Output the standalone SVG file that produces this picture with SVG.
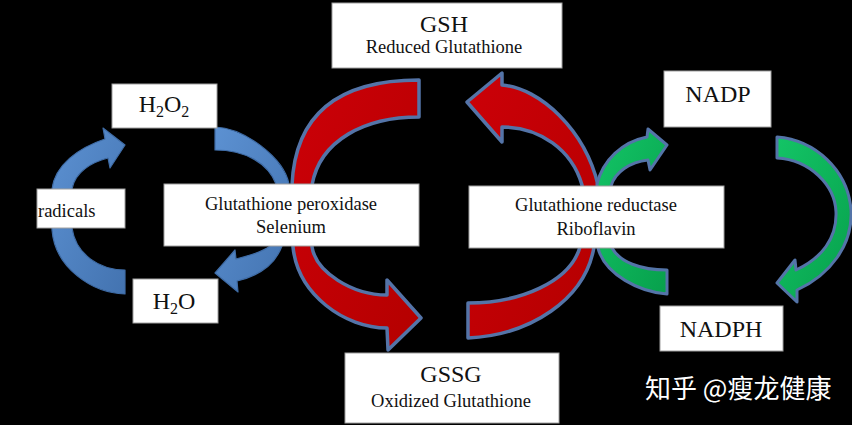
<svg xmlns="http://www.w3.org/2000/svg" width="852" height="425" viewBox="0 0 852 425">
<defs>
<linearGradient id="gBlue" x1="0" y1="0" x2="1" y2="1">
<stop offset="0" stop-color="#5c91d2"/><stop offset="1" stop-color="#4373b0"/>
</linearGradient>
<linearGradient id="gGreen" x1="0" y1="0" x2="1" y2="1">
<stop offset="0" stop-color="#13c466"/><stop offset="1" stop-color="#07a04c"/>
</linearGradient>
<linearGradient id="gRed" x1="0" y1="0" x2="1" y2="1">
<stop offset="0" stop-color="#cc0008"/><stop offset="1" stop-color="#b40000"/>
</linearGradient>
</defs>
<style>
.box{fill:#ffffff;stroke:#a0a0a0;stroke-width:1}
.t{font-family:"Liberation Serif","Times New Roman",serif;fill:#111;text-anchor:middle}
.big{font-size:24px}
.sm{font-size:18.5px}
.blue{fill:url(#gBlue);stroke:#3f6ca6;stroke-width:1.2;stroke-linejoin:round}
.red{fill:url(#gRed);stroke:#5474a8;stroke-width:3.5;stroke-linejoin:round}
.green{fill:url(#gGreen);stroke:#5474a8;stroke-width:3;stroke-linejoin:round}
</style>
<rect width="852" height="425" fill="#000"/>
<g id="connectors">
<path class="blue" d="M125,270 L125,294 C92,293 55,268 52,230 L52,189 C55,165 78,148 105,139 L103,128 L125,145 L110,168 L108,158 C92,162 75,172 72,189 L72,228 C76,255 100,270 125,270 Z"/>
<path class="blue" d="M215,127 C245,128 284,158 289,184 L282,246 C275,265 258,276 237,281 L238,292 L215,273 L235,250 L236,259 C252,255 265,250 270,246 L276,184 C268,163 245,150 215,150 Z"/>
<path class="red" d="M419,80 C365,80 296,95 292,185 L293,247 C298,295 345,328 387,328 L388,350 L421,318 L387,280 L387,295 C352,295 316,272 312,247 L312,185 C320,140 365,117 419,117 Z"/>
<path class="red" d="M467,102 L502,73 L502,85 C540,88 585,130 598,185 L594,247 C585,300 530,335 468,338 L468,303 C520,303 570,282 580,247 L582,185 C572,150 540,127 502,127 L502,142 Z"/>
<path class="green" d="M667,270 L667,294 C640,292 605,275 598,248 L597,184 C603,160 622,142 647,137 L648,129 L667,145 L650,170 L648,160 C630,162 615,172 611,186 L612,248 C620,262 640,270 667,270 Z"/>
<path class="green" d="M777,137 C815,140 848,170 851,210 C853,245 830,275 797,290 L797,302 L777,283 L795,260 L796,270 C822,258 837,238 836,212 C835,185 810,160 777,158 Z"/>
</g>
<g id="gsh">
<rect class="box" x="332" y="3" width="230" height="65"/>
<text class="t big" x="444" y="32">GSH</text>
<text class="t sm" x="444" y="53">Reduced Glutathione</text>
</g>
<g id="h2o2">
<rect class="box" x="112" y="84" width="105" height="44"/>
<text class="t big" x="164" y="112">H<tspan font-size="16" dy="5">2</tspan><tspan dy="-5">O</tspan><tspan font-size="16" dy="5">2</tspan></text>
</g>
<g id="radicals">
<rect class="box" x="37" y="189" width="88" height="39"/>
<text class="t sm" x="38" y="217" style="text-anchor:start">radicals</text>
</g>
<g id="peroxidase">
<rect class="box" x="164" y="184" width="255" height="62"/>
<text class="t sm" x="291" y="210">Glutathione peroxidase</text>
<text class="t sm" x="291" y="233">Selenium</text>
</g>
<g id="reductase">
<rect class="box" x="469" y="186" width="255" height="62"/>
<text class="t sm" x="596" y="211">Glutathione reductase</text>
<text class="t sm" x="596" y="235">Riboflavin</text>
</g>
<g id="h2o">
<rect class="box" x="133" y="279" width="85" height="44"/>
<text class="t big" x="174" y="309">H<tspan font-size="16" dy="5">2</tspan><tspan dy="-5">O</tspan></text>
</g>
<g id="nadp">
<rect class="box" x="664" y="71" width="107" height="56"/>
<text class="t big" x="718" y="102">NADP</text>
</g>
<g id="nadph">
<rect class="box" x="660" y="306" width="123" height="45"/>
<text class="t big" x="721" y="337">NADPH</text>
</g>
<g id="gssg">
<rect class="box" x="345" y="353" width="214" height="70"/>
<text class="t big" x="451" y="382">GSSG</text>
<text class="t sm" x="451" y="407">Oxidized Glutathione</text>
</g>
<text x="645" y="398" font-family="'Noto Sans CJK SC','Noto Sans',sans-serif" font-size="26" fill="#ffffff">知乎 @瘦龙健康</text>
</svg>
